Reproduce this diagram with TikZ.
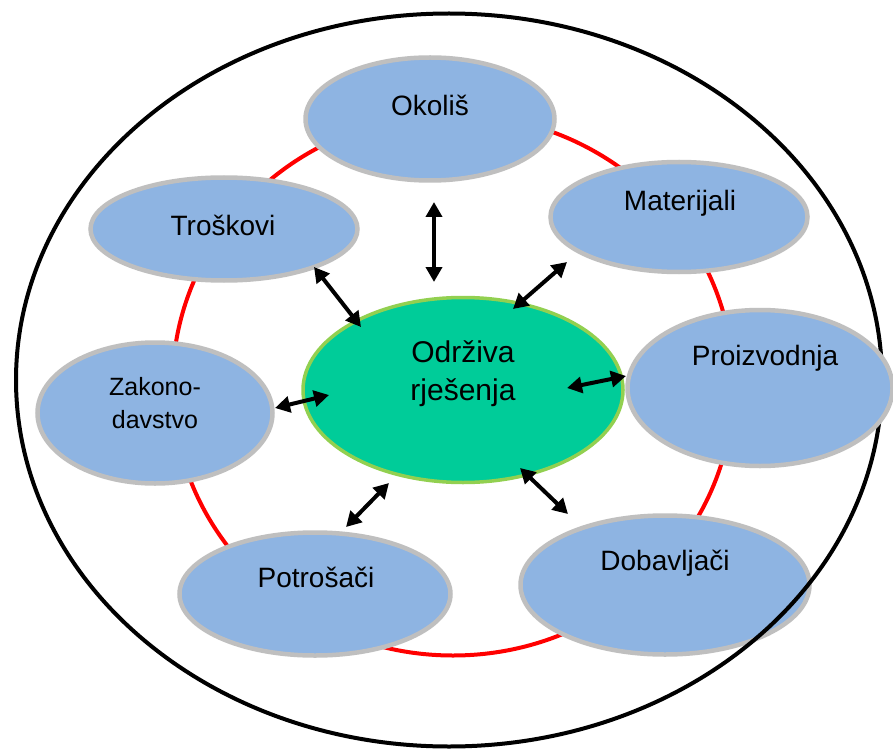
\documentclass[tikz,border=0pt]{standalone}
\usepackage{fontspec}
\setmainfont{Liberation Sans}
\usetikzlibrary{shapes.geometric,arrows.meta}
\definecolor{bluefill}{RGB}{142,180,226}
\definecolor{grayline}{RGB}{191,191,191}
\definecolor{centerfill}{RGB}{0,204,153}
\definecolor{centerline}{RGB}{146,208,80}
\begin{document}
\begin{tikzpicture}[x=1pt,y=-1pt,
  topic/.style={ellipse, draw=grayline, line width=4.5pt, fill=bluefill, inner sep=0pt},
  ring/.style={ellipse, line width=4pt, inner sep=0pt},
  lbl/.style={font=\fontsize{28}{30}\selectfont, inner sep=0pt, align=center},
  link/.style={line width=4pt, {Triangle[length=15pt,width=16pt]}-{Triangle[length=15pt,width=16pt]}}]
\useasboundingbox (0,0) rectangle (893,751);
\clip (0,0) rectangle (893,751);
\fill[white] (0,0) rectangle (893,751);
% red ring
\node[ring, draw=red, minimum width=561pt, minimum height=541pt] (redring) at (453,385) {};
% Dobavljaci lies under the outer ellipse
\node[topic, minimum width=289pt, minimum height=139pt] (dob) at (665,585) {};
% outer ellipse
\node[ring, draw=black, minimum width=866pt, minimum height=733pt] (outer) at (449,380) {};
% other topics
\node[topic, minimum width=249pt, minimum height=123pt] (oko) at (430,119) {};
\node[topic, minimum width=267pt, minimum height=103pt] (tro) at (224,229) {};
\node[topic, minimum width=257pt, minimum height=110pt] (mat) at (679,217) {};
\node[topic, minimum width=265pt, minimum height=156pt] (pro) at (760,388) {};
\node[topic, minimum width=271pt, minimum height=123pt] (pot) at (315,594) {};
\node[topic, minimum width=235pt, minimum height=141pt] (zak) at (155,413) {};
% centre
\node[ellipse, draw=centerline, line width=3.5pt, fill=centerfill, inner sep=0pt,
      minimum width=320pt, minimum height=185pt] (cen) at (463,390) {};
% labels
\node[lbl] (tOko) at (430,105) {Okoliš};
\node[lbl] (tTro) at (223,225) {Troškovi};
\node[lbl] (tMat) at (680,203) {Materijali};
\node[lbl] (tPro) at (765,358) {Proizvodnja};
\node[lbl] (tDob) at (665,563) {Dobavljači};
\node[lbl] (tPot) at (316,577) {Potrošači};
\node[lbl, font=\fontsize{25}{33}\selectfont] (tZak) at (155,403) {Zakono-\\davstvo};
\node[lbl, font=\fontsize{30}{38}\selectfont] (tCen) at (463,374) {Održiva\\rješenja};
% arrow end points
\coordinate (a1) at (434,202); \coordinate (b1) at (434,282);
\coordinate (a2) at (314,267); \coordinate (b2) at (361,327);
\coordinate (a3) at (567,262); \coordinate (b3) at (513,309);
\coordinate (a4) at (567,388); \coordinate (b4) at (626,376);
\coordinate (a5) at (275,408); \coordinate (b5) at (329,395);
\coordinate (a6) at (346,527); \coordinate (b6) at (389,483);
\coordinate (a7) at (520,468); \coordinate (b7) at (568,514);
\draw[link] (a1) -- (b1);
\draw[link] (a2) -- (b2);
\draw[link] (a3) -- (b3);
\draw[link] (a4) -- (b4);
\draw[link] (a5) -- (b5);
\draw[link] (a6) -- (b6);
\draw[link] (a7) -- (b7);
\end{tikzpicture}
\end{document}
